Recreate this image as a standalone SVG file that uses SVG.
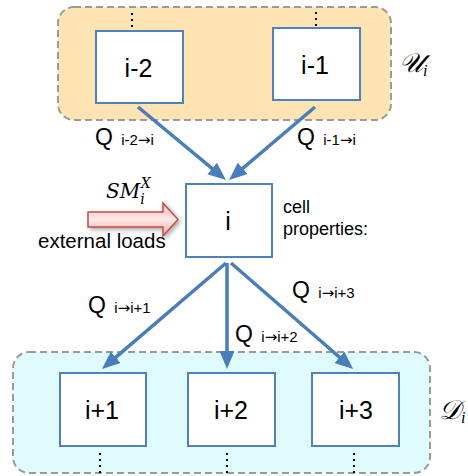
<svg xmlns="http://www.w3.org/2000/svg" width="468" height="476" viewBox="0 0 468 476">
<style>
.grp{stroke:#9a9a9a;stroke-width:2;stroke-dasharray:7,4}
.cell{fill:#fff;stroke:#4f81bd;stroke-width:2}
.lbl{font-family:"Liberation Sans",Arial,sans-serif;fill:#000}
.big{font-size:25px}
.q{font-size:23px}
.sub{font-size:15px}
.arr{font-family:"DejaVu Sans",sans-serif}
.math{font-family:"Liberation Serif","DejaVu Serif",serif;font-style:italic;fill:#000}
.sm{font-family:"DejaVu Serif",serif;font-style:italic;fill:#000}
.dots{stroke:#000;stroke-width:2;stroke-dasharray:2,4}
.conn{stroke:#4a7ebb;stroke-width:3.5;fill:none;marker-end:url(#ah)}
</style>
<defs>
<marker id="ah" markerUnits="userSpaceOnUse" markerWidth="20" markerHeight="16" refX="10" refY="7.5" orient="auto">
<path d="M0,0 L18,7.5 L0,15 z" fill="#4a7ebb"/>
</marker>
<linearGradient id="rg" x1="0" y1="0" x2="0" y2="1">
<stop offset="0" stop-color="#f4b4b2"/>
<stop offset="0.5" stop-color="#fde9e8"/>
<stop offset="1" stop-color="#f2a19e"/>
</linearGradient>
<filter id="sh" x="-20%" y="-30%" width="140%" height="160%">
<feGaussianBlur in="SourceAlpha" stdDeviation="2"/>
<feOffset dx="2" dy="2" result="b"/>
<feComponentTransfer><feFuncA type="linear" slope="0.35"/></feComponentTransfer>
<feMerge><feMergeNode/><feMergeNode in="SourceGraphic"/></feMerge>
</filter>
</defs>
<g id="group-U">
<rect x="58" y="7" width="333" height="113" rx="16" fill="#fee4b2" class="grp"/>
<text x="399" y="72" class="math" font-size="27">𝒰<tspan font-size="16" dy="4">i</tspan></text>
</g>
<g id="group-D">
<rect x="13" y="352" width="417" height="121" rx="16" fill="#e0fbfc" class="grp"/>
<text x="439" y="419" class="math" font-size="27">𝒟<tspan font-size="16" dy="4">i</tspan></text>
</g>
<g id="node-im2">
<line x1="132" y1="13" x2="132" y2="34" class="dots"/>
<rect x="96" y="31" width="87" height="72" class="cell"/>
<text x="138.5" y="77" text-anchor="middle" class="lbl big">i-2</text>
</g>
<g id="node-im1">
<line x1="316" y1="12" x2="316" y2="31" class="dots"/>
<rect x="273" y="28" width="87" height="72" class="cell"/>
<text x="315" y="74" text-anchor="middle" class="lbl big">i-1</text>
</g>
<g id="node-i">
<rect x="186" y="184" width="86" height="73" class="cell"/>
<text x="228" y="230" text-anchor="middle" class="lbl big">i</text>
<text x="283" y="213" class="lbl" font-size="18">cell</text>
<text x="283" y="235" class="lbl" font-size="18">properties:</text>
</g>
<g id="node-ip1">
<rect x="60" y="373" width="86" height="73" class="cell"/>
<text x="102" y="419" text-anchor="middle" class="lbl big">i+1</text>
<line x1="100" y1="453" x2="100" y2="474" class="dots"/>
</g>
<g id="node-ip2">
<rect x="188" y="373" width="87" height="73" class="cell"/>
<text x="231" y="419" text-anchor="middle" class="lbl big">i+2</text>
<line x1="227" y1="453" x2="227" y2="474" class="dots"/>
</g>
<g id="node-ip3">
<rect x="312" y="373" width="87" height="73" class="cell"/>
<text x="356" y="419" text-anchor="middle" class="lbl big">i+3</text>
<line x1="354" y1="453" x2="354" y2="474" class="dots"/>
</g>
<g id="external-load">
<path d="M88,212 L163,212 L163,203 L178,219.5 L163,236 L163,227 L88,227 z" fill="url(#rg)" stroke="#c0504d" stroke-width="1.5" filter="url(#sh)"/>
<text x="106" y="198" class="sm" font-size="20">SM<tspan font-size="14" dx="0" dy="6">i</tspan><tspan font-size="14" dx="-4" dy="-16">X</tspan></text>
<text x="38" y="248" class="lbl" font-size="20.5">external loads</text>
</g>
<g id="connectors">
<line x1="138" y1="107" x2="219.8" y2="174.9" class="conn"/>
<line x1="315" y1="107" x2="235.1" y2="174.8" class="conn"/>
<line x1="226" y1="263" x2="108.1" y2="363.8" class="conn"/>
<line x1="227" y1="263" x2="227" y2="361" class="conn"/>
<line x1="231" y1="263" x2="347" y2="363.8" class="conn"/>
<text x="95" y="145" class="lbl q">Q <tspan class="sub" dx="2">i-2<tspan class="arr">→</tspan>i</tspan></text>
<text x="297" y="145" class="lbl q">Q <tspan class="sub" dx="2">i-1<tspan class="arr">→</tspan>i</tspan></text>
<text x="88" y="313" class="lbl q">Q <tspan class="sub" dx="2">i<tspan class="arr">→</tspan>i+1</tspan></text>
<text x="235" y="342" class="lbl q">Q <tspan class="sub" dx="2">i<tspan class="arr">→</tspan>i+2</tspan></text>
<text x="292" y="298" class="lbl q">Q <tspan class="sub" dx="2">i<tspan class="arr">→</tspan>i+3</tspan></text>
</g>
</svg>
